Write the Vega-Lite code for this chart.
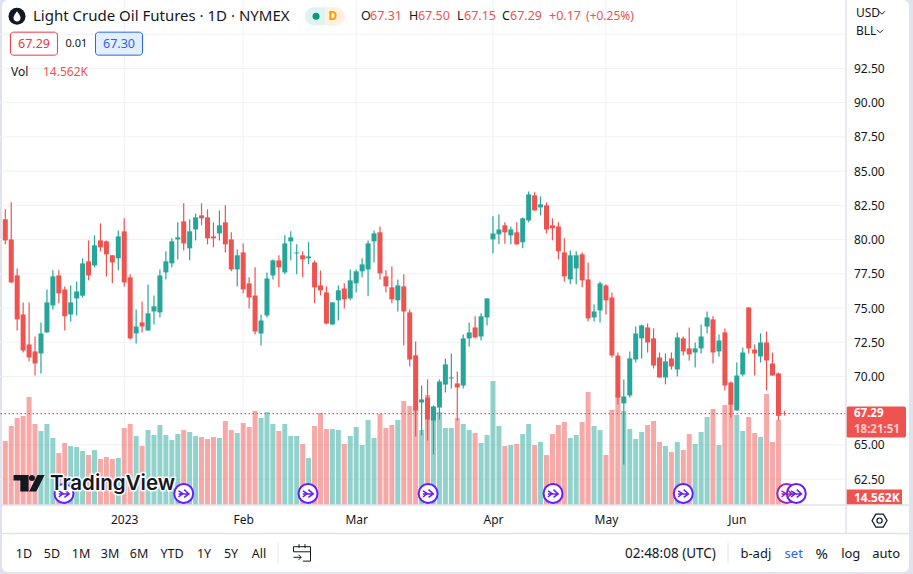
{"$schema":"https://vega.github.io/schema/vega-lite/v6.json","width":846,"height":505,"autosize":{"type":"none"},"padding":{"left":0,"top":0,"right":67,"bottom":69},"background":"#e0e3eb",
"config":{"view":{"stroke":null},"text":{"font":"Noto Sans","fontSize":13,"baseline":"middle","align":"left","color":"#131722"},"axis":{"title":null}},
"data":{"values":[
{"i":0,"o":81.48,"h":82.21,"l":79.65,"c":79.94,"v":640},{"i":1,"o":80.01,"h":82.72,"l":76.8,"c":76.87,"v":790},{"i":2,"o":77.38,"h":77.89,"l":73.36,"c":74.17,"v":870},{"i":3,"o":74.53,"h":75.41,"l":71.75,"c":71.9,"v":890},{"i":4,"o":72.34,"h":75.41,"l":71.1,"c":71.39,"v":1080},{"i":5,"o":71.83,"h":72.92,"l":70.07,"c":70.95,"v":810},{"i":6,"o":71.68,"h":73.95,"l":70.22,"c":73.14,"v":740},{"i":7,"o":73.22,"h":76.36,"l":73.2,"c":75.41,"v":810},{"i":8,"o":75.19,"h":77.75,"l":74.9,"c":77.31,"v":670},{"i":9,"o":77.38,"h":77.75,"l":75.34,"c":76.07,"v":520},
{"i":10,"o":76.36,"h":76.58,"l":73.36,"c":74.39,"v":620},{"i":11,"o":74.53,"h":76.65,"l":74.02,"c":75.41,"v":590},{"i":12,"o":75.7,"h":76.94,"l":74.46,"c":76.21,"v":580},{"i":13,"o":75.9,"h":78.63,"l":75.77,"c":78.26,"v":540},{"i":14,"o":78.41,"h":79.94,"l":77.02,"c":77.38,"v":500},{"i":15,"o":78.11,"h":80.31,"l":77.97,"c":79.58,"v":550},{"i":16,"o":79.94,"h":81.18,"l":79.14,"c":79.43,"v":460},{"i":17,"o":79.87,"h":79.94,"l":77.31,"c":78.92,"v":480},{"i":18,"o":78.85,"h":78.87,"l":76.8,"c":78.33,"v":460},{"i":19,"o":78.63,"h":80.67,"l":77.75,"c":80.23,"v":470},
{"i":20,"o":80.6,"h":81.55,"l":76.58,"c":76.87,"v":770},{"i":21,"o":77.24,"h":77.46,"l":72.7,"c":72.78,"v":810},{"i":22,"o":73.14,"h":74.9,"l":72.41,"c":73.65,"v":690},{"i":23,"o":73.95,"h":75.48,"l":73.22,"c":73.65,"v":590},{"i":24,"o":73.36,"h":76.72,"l":73.34,"c":74.61,"v":750},{"i":25,"o":74.75,"h":75.92,"l":73.8,"c":75.12,"v":700},{"i":26,"o":74.68,"h":77.82,"l":74.31,"c":77.38,"v":800},{"i":27,"o":77.6,"h":79.14,"l":77.09,"c":78.41,"v":700},{"i":28,"o":78.26,"h":80.09,"l":77.97,"c":79.87,"v":650},{"i":29,"o":80.01,"h":81.26,"l":78.55,"c":80.16,"v":710},
{"i":30,"o":81.33,"h":82.65,"l":79.21,"c":79.72,"v":750},{"i":31,"o":79.36,"h":81.48,"l":78.48,"c":80.6,"v":730},{"i":32,"o":80.74,"h":81.91,"l":79.94,"c":81.62,"v":690},{"i":33,"o":81.77,"h":82.65,"l":81.04,"c":81.55,"v":680},{"i":34,"o":81.62,"h":82.21,"l":79.65,"c":80.09,"v":660},{"i":35,"o":80.23,"h":81.26,"l":79.43,"c":80.09,"v":680},{"i":36,"o":80.45,"h":82.13,"l":79.94,"c":81.04,"v":670},{"i":37,"o":81.26,"h":82.5,"l":79.06,"c":79.65,"v":840},{"i":38,"o":80.01,"h":80.53,"l":77.68,"c":77.82,"v":750},{"i":39,"o":77.82,"h":79.28,"l":76.58,"c":78.85,"v":720},
{"i":40,"o":79.06,"h":79.72,"l":76.07,"c":76.36,"v":820},{"i":41,"o":76.8,"h":77.24,"l":74.97,"c":75.77,"v":780},{"i":42,"o":75.92,"h":77.97,"l":73.07,"c":73.29,"v":940},{"i":43,"o":73.14,"h":74.53,"l":72.27,"c":74.09,"v":870},{"i":44,"o":74.46,"h":77.6,"l":74.31,"c":77.16,"v":930},{"i":45,"o":77.38,"h":78.55,"l":77.09,"c":78.48,"v":810},{"i":46,"o":78.48,"h":78.85,"l":76.51,"c":77.97,"v":740},{"i":47,"o":77.6,"h":80.31,"l":77.46,"c":79.72,"v":810},{"i":48,"o":79.87,"h":80.6,"l":78.48,"c":80.16,"v":690},{"i":49,"o":78.99,"h":79.65,"l":77.46,"c":79.06,"v":690},
{"i":50,"o":78.85,"h":79.14,"l":77.24,"c":78.55,"v":610},{"i":51,"o":78.63,"h":79.8,"l":78.19,"c":78.77,"v":470},{"i":52,"o":78.33,"h":78.48,"l":75.34,"c":76.51,"v":790},{"i":53,"o":76.65,"h":77.75,"l":75.92,"c":76.29,"v":920},{"i":54,"o":76.14,"h":76.58,"l":73.8,"c":73.87,"v":760},{"i":55,"o":73.8,"h":75.43,"l":73.78,"c":75.41,"v":760},{"i":56,"o":75.56,"h":76.65,"l":74.09,"c":76.29,"v":750},{"i":57,"o":76.43,"h":76.8,"l":74.97,"c":75.63,"v":610},{"i":58,"o":75.7,"h":77.82,"l":75.56,"c":77.02,"v":690},{"i":59,"o":76.8,"h":77.82,"l":76.14,"c":77.68,"v":780},
{"i":60,"o":77.68,"h":78.63,"l":77.24,"c":78.19,"v":600},{"i":61,"o":77.82,"h":79.94,"l":75.85,"c":79.72,"v":850},{"i":62,"o":79.87,"h":80.67,"l":78.33,"c":80.45,"v":670},{"i":63,"o":80.53,"h":80.96,"l":77.09,"c":77.53,"v":910},{"i":64,"o":77.31,"h":77.75,"l":76.14,"c":76.58,"v":770},{"i":65,"o":76.51,"h":78.04,"l":75.34,"c":75.63,"v":800},{"i":66,"o":75.56,"h":77.09,"l":74.75,"c":76.65,"v":850},{"i":67,"o":76.58,"h":77.46,"l":72.27,"c":74.75,"v":1040},{"i":68,"o":74.68,"h":74.9,"l":70.73,"c":71.24,"v":990},{"i":69,"o":71.54,"h":72.56,"l":65.61,"c":67.51,"v":970},
{"i":70,"o":68.1,"h":69.34,"l":65.69,"c":68.32,"v":750},{"i":71,"o":68.46,"h":69.78,"l":65.32,"c":66.86,"v":1100},{"i":72,"o":66.78,"h":67.88,"l":64.3,"c":67.81,"v":920},{"i":73,"o":67.73,"h":69.78,"l":66.86,"c":69.63,"v":930},{"i":74,"o":69.41,"h":71.32,"l":68.83,"c":70.88,"v":770},{"i":75,"o":69.85,"h":71.68,"l":69.12,"c":69.93,"v":770},{"i":76,"o":69.49,"h":70.37,"l":66.78,"c":69.2,"v":870},{"i":77,"o":69.34,"h":73.07,"l":69.12,"c":72.78,"v":810},{"i":78,"o":72.78,"h":73.95,"l":72.19,"c":73.22,"v":750},{"i":79,"o":73.58,"h":74.39,"l":72.78,"c":72.85,"v":720},
{"i":80,"o":72.92,"h":74.61,"l":72.63,"c":74.39,"v":620},{"i":81,"o":74.31,"h":75.72,"l":73.73,"c":75.7,"v":700},{"i":82,"o":80.01,"h":81.7,"l":78.99,"c":80.45,"v":1240},{"i":83,"o":80.38,"h":81.84,"l":79.65,"c":80.74,"v":790},{"i":84,"o":81.04,"h":81.26,"l":79.7,"c":80.53,"v":590},{"i":85,"o":80.31,"h":80.96,"l":79.65,"c":80.74,"v":600},{"i":86,"o":80.53,"h":81.26,"l":79.63,"c":79.65,"v":610},{"i":87,"o":79.8,"h":81.62,"l":79.36,"c":81.55,"v":710},{"i":88,"o":81.4,"h":83.52,"l":81.26,"c":83.3,"v":810},{"i":89,"o":83.23,"h":83.45,"l":82.11,"c":82.13,"v":600},
{"i":90,"o":82.35,"h":83.16,"l":81.77,"c":82.57,"v":630},{"i":91,"o":82.5,"h":82.72,"l":80.45,"c":80.74,"v":500},{"i":92,"o":81.04,"h":81.55,"l":79.94,"c":80.82,"v":710},{"i":93,"o":80.96,"h":81.26,"l":78.55,"c":79.14,"v":800},{"i":94,"o":79.06,"h":80.09,"l":76.94,"c":77.31,"v":830},{"i":95,"o":77.09,"h":79.21,"l":76.73,"c":78.85,"v":670},{"i":96,"o":77.89,"h":79.14,"l":76.73,"c":78.85,"v":700},{"i":97,"o":78.92,"h":79.06,"l":76.51,"c":77.02,"v":830},{"i":98,"o":77.09,"h":78.33,"l":74.02,"c":74.24,"v":1130},{"i":99,"o":74.31,"h":75.26,"l":74.02,"c":74.75,"v":790},
{"i":100,"o":74.82,"h":76.94,"l":73.95,"c":76.8,"v":750},{"i":101,"o":76.65,"h":76.72,"l":74.53,"c":75.56,"v":500},{"i":102,"o":75.77,"h":76.14,"l":71.39,"c":71.53,"v":950},{"i":103,"o":71.53,"h":71.75,"l":67.95,"c":68.46,"v":1100},{"i":104,"o":68.03,"h":69.78,"l":63.57,"c":68.54,"v":940},{"i":105,"o":68.61,"h":71.83,"l":68.46,"c":71.32,"v":760},{"i":106,"o":71.24,"h":73.65,"l":71.02,"c":73.14,"v":660},{"i":107,"o":72.78,"h":73.8,"l":71.32,"c":73.73,"v":730},{"i":108,"o":73.58,"h":73.87,"l":71.75,"c":72.48,"v":800},{"i":109,"o":72.78,"h":73.51,"l":70.58,"c":70.8,"v":840},
{"i":110,"o":71.39,"h":71.75,"l":69.91,"c":69.93,"v":630},{"i":111,"o":69.93,"h":71.68,"l":69.42,"c":71.1,"v":590},{"i":112,"o":71.32,"h":71.75,"l":70.51,"c":70.73,"v":530},{"i":113,"o":70.51,"h":73.22,"l":70,"c":72.85,"v":630},{"i":114,"o":72.78,"h":72.92,"l":71.53,"c":71.83,"v":550},{"i":115,"o":72.05,"h":73.58,"l":71.17,"c":71.61,"v":710},{"i":116,"o":71.75,"h":72.48,"l":70.66,"c":72.05,"v":610},{"i":117,"o":72.05,"h":73.8,"l":71.68,"c":72.92,"v":730},{"i":118,"o":73.65,"h":74.75,"l":73.14,"c":74.31,"v":880},{"i":119,"o":74.17,"h":74.39,"l":70.95,"c":71.75,"v":960},
{"i":120,"o":71.83,"h":73.07,"l":71.46,"c":72.63,"v":600},{"i":121,"o":73.22,"h":73.51,"l":68.98,"c":69.34,"v":1000},{"i":122,"o":69.56,"h":69.63,"l":67,"c":67.95,"v":1020},{"i":123,"o":67.52,"h":71.02,"l":67.5,"c":70.07,"v":900},{"i":124,"o":70.14,"h":72.12,"l":70,"c":71.75,"v":740},{"i":125,"o":75.04,"h":75.06,"l":71.68,"c":72.05,"v":880},{"i":126,"o":71.97,"h":72.34,"l":70.07,"c":71.68,"v":720},{"i":127,"o":71.46,"h":73.14,"l":71.02,"c":72.48,"v":680},{"i":128,"o":72.48,"h":73.29,"l":68.98,"c":71.17,"v":1110},{"i":129,"o":70.95,"h":71.75,"l":70.05,"c":70.07,"v":630},
{"i":130,"o":70.22,"h":70.29,"l":66.78,"c":67.12,"v":850},{"i":131,"o":67.31,"h":67.5,"l":67.15,"c":67.29,"v":14.562}
]},
"resolve":{"scale":{"y":"independent"}},
"layer":[
{"layer":[
{"data":{"values":[{"n":"panel"}]},"mark":{"type":"rect","fill":"#ffffff","cornerRadius":6},"encoding":{"x":{"datum":-0.55},"x2":{"datum":151.96},"y":{"datum":97.5,"scale":{"domain":[60.61,97.5],"nice":false,"zero":false},"axis":null},"y2":{"datum":55.72}}},
{"data":{"values":[{"g":62.5},{"g":65},{"g":67.5},{"g":70},{"g":72.5},{"g":75},{"g":77.5},{"g":80},{"g":82.5},{"g":85},{"g":87.5},{"g":90},{"g":92.5},{"g":95}]},"mark":{"type":"rule","color":"#f0f1f5","strokeWidth":1},"encoding":{"y":{"field":"g","type":"quantitative","axis":null}}},
{"data":{"values":[{"m":20},{"m":40},{"m":59},{"m":82},{"m":101},{"m":123}]},"mark":{"type":"rule","color":"#f0f1f5","strokeWidth":1},"encoding":{"x":{"field":"m","type":"quantitative"}}}
]},
{"mark":{"type":"bar","orient":"vertical","size":5,"opacity":0.5},"encoding":{
"x":{"field":"i","type":"quantitative","scale":{"domain":[-0.89,141.36],"nice":false,"zero":false,"padding":0},"axis":{"title":null,"values":[20,40,59,82,101,123],"labelExpr":"datum.value==20?'2023':datum.value==40?'Feb':datum.value==59?'Mar':datum.value==82?'Apr':datum.value==101?'May':'Jun'","grid":false,"ticks":false,"domain":false,"labelFont":"Noto Sans","labelFontSize":12,"labelColor":"#131722","labelPadding":9,"labelOverlap":false,"tickCount":20,"zindex":1}},
"y":{"field":"v","type":"quantitative","stack":null,"scale":{"domain":[0,5050],"nice":false},"axis":null},
"color":{"condition":{"test":"datum.c<datum.o","value":"#ef5350"},"value":"#26a69a"}}},
{"layer":[
{"mark":{"type":"rule","strokeWidth":1.2},"encoding":{
"x":{"field":"i","type":"quantitative"},
"y":{"field":"l","type":"quantitative","scale":{"domain":[60.61,97.5],"nice":false,"zero":false},"axis":{"title":null,"orient":"right","values":[62.5,65,70,72.5,75,77.5,80,82.5,85,87.5,90,92.5],"format":".2f","grid":false,"ticks":false,"domain":false,"labelFont":"Noto Sans","labelFontSize":12,"labelColor":"#131722","labelPadding":7.5,"labelOverlap":false,"tickCount":30,"zindex":1}},
"y2":{"field":"h"},
"color":{"condition":{"test":"datum.c<datum.o","value":"#ef5350"},"value":"#26a69a"}}},
{"mark":{"type":"bar","orient":"vertical","size":5},"encoding":{
"x":{"field":"i","type":"quantitative"},
"y":{"field":"o","type":"quantitative","stack":null},
"y2":{"field":"c"},
"color":{"condition":{"test":"datum.c<datum.o","value":"#ef5350"},"value":"#26a69a"}}},
{"data":{"values":[{"price":67.29}]},"mark":{"type":"rule","color":"#ef5350","strokeDash":[1.5,2.5],"strokeWidth":1.2},"encoding":{"y":{"field":"price","type":"quantitative"}}},
{"data":{"values":[{"i":9.87,"k":"a"},{"i":30,"k":"a"},{"i":50.9,"k":"a"},{"i":71.1,"k":"a"},{"i":92.1,"k":"a"},{"i":114,"k":"a"},{"i":131.4,"k":"b"},{"i":133,"k":"a"}]},"layer":[
{"mark":{"type":"point","shape":"circle","size":361,"filled":false,"fill":"#ffffff","fillOpacity":1,"strokeWidth":2,"opacity":1},"encoding":{"x":{"field":"i","type":"quantitative"},"y":{"datum":61.45},"stroke":{"field":"k","type":"nominal","scale":{"domain":["a","b"],"range":["#651fff","#9c27b0"]},"legend":null}}},
{"mark":{"type":"point","shape":"M-0.6 -0.3 L-0.1 0 L-0.6 0.4 M-0.6 0.05 H0.6 M0.05 -0.45 L0.6 0.05 L0.05 0.45","size":300,"filled":false,"strokeWidth":1.5,"opacity":1},"encoding":{"x":{"field":"i","type":"quantitative"},"y":{"datum":61.45},"stroke":{"field":"k","type":"nominal","legend":null}}}
]},
{"data":{"values":[{"n":"logo"}]},"mark":{"type":"point","shape":"M-0.97 -0.52 H-0.03 V0.52 H-0.55 V-0.17 H-0.97 Z M-0.01 -0.33 A0.19 0.19 0 1 0 0.37 -0.33 A0.19 0.19 0 1 0 -0.01 -0.33 Z M0.52 -0.52 H0.97 L0.45 0.52 H0 Z","size":1024,"filled":true,"fill":"#131722","strokeWidth":0,"opacity":1},"encoding":{"x":{"datum":4},"y":{"datum":62.2}}},
{"data":{"values":[{"t":"TradingView"}]},"mark":{"type":"text","font":"Inter","fontWeight":600,"fontSize":20.5,"stroke":"#ffffff","strokeWidth":3,"strokeJoin":"round"},"encoding":{"x":{"datum":7.52},"y":{"datum":62.11},"text":{"field":"t"}}},
{"data":{"values":[{"t":"TradingView"}]},"mark":{"type":"text","font":"Inter","fontWeight":600,"fontSize":20.5},"encoding":{"x":{"datum":7.52},"y":{"datum":62.11},"text":{"field":"t"}}},

{"data":{"values":[{"n":"icon"}]},"mark":{"type":"point","shape":"circle","size":289,"filled":true,"color":"#131722","opacity":1},"encoding":{"x":{"datum":1.97},"y":{"datum":96.32}}},
{"data":{"values":[{"n":"drop"}]},"mark":{"type":"point","shape":"M0 -1 C0.6 -0.2 0.7 0.1 0.7 0.35 A0.7 0.7 0 0 1 -0.7 0.35 C-0.7 0.1 -0.6 -0.2 0 -1 Z","size":100,"filled":true,"color":"#ffffff","opacity":1},"encoding":{"x":{"datum":1.97},"y":{"datum":96.32}}},
{"data":{"values":[{"t":"Light Crude Oil Futures · 1D · NYMEX"}]},"mark":{"type":"text","fontSize":15},"encoding":{"x":{"datum":4.66},"y":{"datum":96.32},"text":{"field":"t"}}},
{"data":{"values":[{"n":"pill"}]},"mark":{"type":"rect","fill":"#dff3ef","cornerRadiusTopLeft":9,"cornerRadiusBottomLeft":9},"encoding":{"x":{"datum":50.4},"x2":{"datum":53.76},"y":{"datum":96.97},"y2":{"datum":95.66}}},
{"data":{"values":[{"n":"pill"}]},"mark":{"type":"rect","fill":"#fff1dc","cornerRadiusTopRight":9,"cornerRadiusBottomRight":9},"encoding":{"x":{"datum":53.76},"x2":{"datum":57.12},"y":{"datum":96.97},"y2":{"datum":95.66}}},
{"data":{"values":[{"n":"dot"}]},"mark":{"type":"point","shape":"circle","size":49,"filled":true,"color":"#089981","opacity":1},"encoding":{"x":{"datum":52.25},"y":{"datum":96.32}}},
{"data":{"values":[{"t":"D"}]},"mark":{"type":"text","align":"center","fontSize":12,"fontWeight":700,"color":"#ff9800"},"encoding":{"x":{"datum":55.1},"y":{"datum":96.32},"text":{"field":"t"}}},

{"data":{"values":[{"t":"O"}]},"mark":{"type":"text","fontSize":12.5},"encoding":{"x":{"datum":59.81},"y":{"datum":96.32},"text":{"field":"t"}}},
{"data":{"values":[{"t":"67.31"}]},"mark":{"type":"text","fontSize":12.5,"color":"#ef5350"},"encoding":{"x":{"datum":61.32},"y":{"datum":96.32},"text":{"field":"t"}}},
{"data":{"values":[{"t":"H"}]},"mark":{"type":"text","fontSize":12.5},"encoding":{"x":{"datum":67.88},"y":{"datum":96.32},"text":{"field":"t"}}},
{"data":{"values":[{"t":"67.50"}]},"mark":{"type":"text","fontSize":12.5,"color":"#ef5350"},"encoding":{"x":{"datum":69.39},"y":{"datum":96.32},"text":{"field":"t"}}},
{"data":{"values":[{"t":"L"}]},"mark":{"type":"text","fontSize":12.5},"encoding":{"x":{"datum":75.95},"y":{"datum":96.32},"text":{"field":"t"}}},
{"data":{"values":[{"t":"67.15"}]},"mark":{"type":"text","fontSize":12.5,"color":"#ef5350"},"encoding":{"x":{"datum":77.13},"y":{"datum":96.32},"text":{"field":"t"}}},
{"data":{"values":[{"t":"C"}]},"mark":{"type":"text","fontSize":12.5},"encoding":{"x":{"datum":83.52},"y":{"datum":96.32},"text":{"field":"t"}}},
{"data":{"values":[{"t":"67.29"}]},"mark":{"type":"text","fontSize":12.5,"color":"#ef5350"},"encoding":{"x":{"datum":84.87},"y":{"datum":96.32},"text":{"field":"t"}}},
{"data":{"values":[{"t":"+0.17"}]},"mark":{"type":"text","fontSize":12.5,"color":"#ef5350"},"encoding":{"x":{"datum":91.42},"y":{"datum":96.32},"text":{"field":"t"}}},
{"data":{"values":[{"t":"(+0.25%)"}]},"mark":{"type":"text","fontSize":12,"color":"#ef5350"},"encoding":{"x":{"datum":97.65},"y":{"datum":96.32},"text":{"field":"t"}}},

{"data":{"values":[{"n":"box"}]},"mark":{"type":"rect","fill":"#ffffff","stroke":"#f23645","strokeWidth":1,"cornerRadius":3},"encoding":{"x":{"datum":0.87},"x2":{"datum":8.77},"y":{"datum":95.15},"y2":{"datum":93.47}}},
{"data":{"values":[{"t":"67.29"}]},"mark":{"type":"text","align":"center","fontSize":12.5,"color":"#f23645"},"encoding":{"x":{"datum":4.83},"y":{"datum":94.27},"text":{"field":"t"}}},
{"data":{"values":[{"t":"0.01"}]},"mark":{"type":"text","align":"center","fontSize":11},"encoding":{"x":{"datum":11.97},"y":{"datum":94.27},"text":{"field":"t"}}},
{"data":{"values":[{"n":"box"}]},"mark":{"type":"rect","fill":"#e3effd","stroke":"#2962ff","strokeWidth":1,"cornerRadius":3},"encoding":{"x":{"datum":15.17},"x2":{"datum":23.07},"y":{"datum":95.15},"y2":{"datum":93.47}}},
{"data":{"values":[{"t":"67.30"}]},"mark":{"type":"text","align":"center","fontSize":12.5,"color":"#2962ff"},"encoding":{"x":{"datum":19.12},"y":{"datum":94.27},"text":{"field":"t"}}},
{"data":{"values":[{"t":"Vol"}]},"mark":{"type":"text","fontSize":12},"encoding":{"x":{"datum":0.96},"y":{"datum":92.22},"text":{"field":"t"}}},
{"data":{"values":[{"t":"14.562K"}]},"mark":{"type":"text","fontSize":12,"color":"#ef5350"},"encoding":{"x":{"datum":6.34},"y":{"datum":92.22},"text":{"field":"t"}}},

{"data":{"values":[{"t":"USD"}]},"mark":{"type":"text","fontSize":12},"encoding":{"x":{"datum":143.04},"y":{"datum":96.57},"text":{"field":"t"}}},
{"data":{"values":[{"t":"BLL"}]},"mark":{"type":"text","fontSize":12},"encoding":{"x":{"datum":143.04},"y":{"datum":95.22},"text":{"field":"t"}}},
{"data":{"values":[{"n":"chev"}]},"mark":{"type":"point","shape":"M-1 -0.5 L0 0.5 L1 -0.5","size":36,"filled":false,"color":"#131722","strokeWidth":1,"opacity":1},"encoding":{"x":{"datum":147.41},"y":{"datum":96.57}}},
{"data":{"values":[{"n":"chev"}]},"mark":{"type":"point","shape":"M-1 -0.5 L0 0.5 L1 -0.5","size":36,"filled":false,"color":"#131722","strokeWidth":1,"opacity":1},"encoding":{"x":{"datum":147.08},"y":{"datum":95.22}}},

{"data":{"values":[{"n":"tag"}]},"mark":{"type":"rect","fill":"#ef5350","cornerRadius":2},"encoding":{"x":{"datum":141.36},"x2":{"datum":151.45},"y":{"datum":67.81},"y2":{"datum":65.54}}},
{"data":{"values":[{"t":"67.29"}]},"mark":{"type":"text","fontSize":11.5,"fontWeight":700,"color":"#ffffff"},"encoding":{"x":{"datum":142.7},"y":{"datum":67.26},"text":{"field":"t"}}},
{"data":{"values":[{"t":"18:21:51"}]},"mark":{"type":"text","fontSize":11.5,"fontWeight":700,"color":"#fccbcb"},"encoding":{"x":{"datum":142.7},"y":{"datum":66.12},"text":{"field":"t"}}},
{"data":{"values":[{"n":"tag"}]},"mark":{"type":"rect","fill":"#ef5350"},"encoding":{"x":{"datum":141.36},"x2":{"datum":150.78},"y":{"datum":61.74},"y2":{"datum":60.61}}},
{"data":{"values":[{"t":"14.562K"}]},"mark":{"type":"text","fontSize":12,"fontWeight":700,"color":"#ffffff"},"encoding":{"x":{"datum":142.7},"y":{"datum":61.15},"text":{"field":"t"}}},
{"data":{"values":[{"n":"hex"}]},"mark":{"type":"point","shape":"M-1 0 L-0.5 -0.87 H0.5 L1 0 L0.5 0.87 H-0.5 Z M0.35 0 A0.35 0.35 0 1 1 -0.35 0 A0.35 0.35 0 1 1 0.35 0 Z","size":225,"filled":false,"color":"#131722","strokeWidth":1.2,"opacity":1},"encoding":{"x":{"datum":147},"y":{"datum":59.47}}},

{"data":{"values":[{"n":"line"}]},"mark":{"type":"rule","color":"#e0e3eb","strokeWidth":1.5},"encoding":{"x":{"datum":141.36},"y":{"datum":97.5},"y2":{"datum":58.52}}},
{"data":{"values":[{"n":"line"}]},"mark":{"type":"rule","color":"#e0e3eb","strokeWidth":1.5},"encoding":{"x":{"datum":-0.55},"x2":{"datum":151.96},"y":{"datum":60.61}}},
{"data":{"values":[{"n":"line"}]},"mark":{"type":"rule","color":"#e0e3eb","strokeWidth":1.5},"encoding":{"x":{"datum":-0.55},"x2":{"datum":151.96},"y":{"datum":58.52}}},

{"data":{"values":[{"t":"1D"}]},"mark":{"type":"text","align":"center","fontSize":12.5},"encoding":{"x":{"datum":3.14},"y":{"datum":57.06},"text":{"field":"t"}}},
{"data":{"values":[{"t":"5D"}]},"mark":{"type":"text","align":"center","fontSize":12.5},"encoding":{"x":{"datum":7.85},"y":{"datum":57.06},"text":{"field":"t"}}},
{"data":{"values":[{"t":"1M"}]},"mark":{"type":"text","align":"center","fontSize":12.5},"encoding":{"x":{"datum":12.73},"y":{"datum":57.06},"text":{"field":"t"}}},
{"data":{"values":[{"t":"3M"}]},"mark":{"type":"text","align":"center","fontSize":12.5},"encoding":{"x":{"datum":17.61},"y":{"datum":57.06},"text":{"field":"t"}}},
{"data":{"values":[{"t":"6M"}]},"mark":{"type":"text","align":"center","fontSize":12.5},"encoding":{"x":{"datum":22.48},"y":{"datum":57.06},"text":{"field":"t"}}},
{"data":{"values":[{"t":"YTD"}]},"mark":{"type":"text","align":"center","fontSize":12.5},"encoding":{"x":{"datum":28.03},"y":{"datum":57.06},"text":{"field":"t"}}},
{"data":{"values":[{"t":"1Y"}]},"mark":{"type":"text","align":"center","fontSize":12.5},"encoding":{"x":{"datum":33.41},"y":{"datum":57.06},"text":{"field":"t"}}},
{"data":{"values":[{"t":"5Y"}]},"mark":{"type":"text","align":"center","fontSize":12.5},"encoding":{"x":{"datum":37.95},"y":{"datum":57.06},"text":{"field":"t"}}},
{"data":{"values":[{"t":"All"}]},"mark":{"type":"text","align":"center","fontSize":12.5},"encoding":{"x":{"datum":42.66},"y":{"datum":57.06},"text":{"field":"t"}}},
{"data":{"values":[{"n":"line"}]},"mark":{"type":"rule","color":"#e0e3eb","strokeWidth":1},"encoding":{"x":{"datum":45.86},"y":{"datum":57.86},"y2":{"datum":56.33}}},
{"data":{"values":[{"n":"cal"}]},"mark":{"type":"point","shape":"M-0.35 -1 V-0.55 M0.35 -1 V-0.55 M-1 -0.1 V-0.7 H1 V1 H0.1 M-1 -0.1 H1 M-1 0.55 H-0.1 M-0.4 0.25 L-0.1 0.55 L-0.4 0.85","size":289,"filled":false,"color":"#131722","strokeWidth":1,"opacity":1},"encoding":{"x":{"datum":49.89},"y":{"datum":57.13}}},
{"data":{"values":[{"t":"02:48:08 (UTC)"}]},"mark":{"type":"text","align":"center","fontSize":13.5},"encoding":{"x":{"datum":111.85},"y":{"datum":57.06},"text":{"field":"t"}}},
{"data":{"values":[{"n":"line"}]},"mark":{"type":"rule","color":"#e0e3eb","strokeWidth":1},"encoding":{"x":{"datum":121.53},"y":{"datum":57.86},"y2":{"datum":56.33}}},
{"data":{"values":[{"t":"b-adj"}]},"mark":{"type":"text","align":"center","fontSize":13},"encoding":{"x":{"datum":126.2},"y":{"datum":57.06},"text":{"field":"t"}}},
{"data":{"values":[{"t":"set"}]},"mark":{"type":"text","align":"center","fontSize":13,"color":"#2962ff"},"encoding":{"x":{"datum":132.57},"y":{"datum":57.06},"text":{"field":"t"}}},
{"data":{"values":[{"t":"%"}]},"mark":{"type":"text","align":"center","fontSize":15},"encoding":{"x":{"datum":137.28},"y":{"datum":57.06},"text":{"field":"t"}}},
{"data":{"values":[{"t":"log"}]},"mark":{"type":"text","align":"center","fontSize":13},"encoding":{"x":{"datum":142.16},"y":{"datum":57.06},"text":{"field":"t"}}},
{"data":{"values":[{"t":"auto"}]},"mark":{"type":"text","align":"center","fontSize":13},"encoding":{"x":{"datum":148.1},"y":{"datum":57.06},"text":{"field":"t"}}}
]}
]}
